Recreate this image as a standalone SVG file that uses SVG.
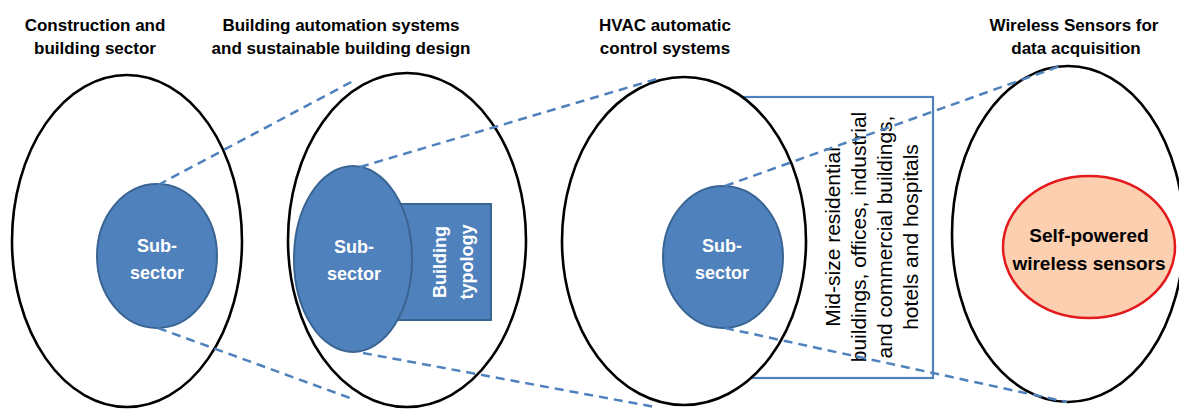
<svg xmlns="http://www.w3.org/2000/svg" width="1179" height="409" viewBox="0 0 1179 409">
  <style>
    .title { font-family: "Liberation Sans", Arial, sans-serif; font-size: 17px; font-weight: bold; fill: #000; text-anchor: middle; }
    .outer { fill: #fff; stroke: #000; stroke-width: 2.6; }
    .sub { fill: #4f81bd; stroke: #3a6593; stroke-width: 2; }
    .subtxt { font-family: "Liberation Sans", Arial, sans-serif; font-size: 18px; font-weight: bold; fill: #fff; text-anchor: middle; }
    .boxtxt { font-family: "Liberation Sans", Arial, sans-serif; font-size: 21px; fill: #000; text-anchor: middle; }
    .sensortxt { font-family: "Liberation Sans", Arial, sans-serif; font-size: 19px; font-weight: bold; fill: #000; text-anchor: middle; }
    .link { fill: none; stroke: #4f81bd; stroke-width: 2.5; stroke-dasharray: 9 6; }
  </style>

  <!-- column headings -->
  <g id="titles">
    <text class="title" x="95" y="31">Construction and</text>
    <text class="title" x="95" y="54">building sector</text>
    <text class="title" x="341" y="31">Building automation systems</text>
    <text class="title" x="341" y="54">and sustainable building design</text>
    <text class="title" x="665" y="31">HVAC automatic</text>
    <text class="title" x="665" y="54">control systems</text>
    <text class="title" x="1074" y="31">Wireless Sensors for</text>
    <text class="title" x="1076" y="54">data acquisition</text>
  </g>

  <!-- level 1: construction sector -->
  <g id="sector">
    <ellipse class="outer" cx="127" cy="241" rx="115" ry="166"/>
  </g>
  <g id="sector-sub">
    <ellipse class="sub" cx="157" cy="256" rx="60" ry="72"/>
    <text class="subtxt" x="157" y="252">Sub-</text>
    <text class="subtxt" x="157" y="279">sector</text>
  </g>

  <!-- level 2: building automation -->
  <g id="automation">
    <ellipse class="outer" cx="407" cy="240" rx="119" ry="167"/>
  </g>
  <g id="typology">
    <rect x="380" y="204" width="111" height="116" fill="#4f81bd" stroke="#3a6593" stroke-width="2"/>
    <text class="subtxt" transform="translate(446,262) rotate(-90)">Building</text>
    <text class="subtxt" transform="translate(473,262) rotate(-90)">typology</text>
  </g>
  <g id="automation-sub">
    <ellipse class="sub" cx="353" cy="259" rx="59" ry="93"/>
    <text class="subtxt" x="354" y="253">Sub-</text>
    <text class="subtxt" x="354" y="280">sector</text>
  </g>

  <!-- level 3: HVAC control -->
  <g id="building-types">
    <rect x="740" y="97" width="193" height="281" fill="#fff" stroke="#4f81bd" stroke-width="2.2"/>
  </g>
  <g id="hvac">
    <ellipse class="outer" cx="684" cy="241" rx="122" ry="164"/>
  </g>
  <g id="building-types-text">
    <text class="boxtxt" transform="translate(840,237) rotate(-90)">Mid-size residential</text>
    <text class="boxtxt" transform="translate(866,237) rotate(-90)">buildings, offices, industrial</text>
    <text class="boxtxt" transform="translate(892,237) rotate(-90)">and commercial buildings,</text>
    <text class="boxtxt" transform="translate(918,237) rotate(-90)">hotels and hospitals</text>
  </g>
  <g id="hvac-sub">
    <ellipse class="sub" cx="723" cy="257" rx="60" ry="71"/>
    <text class="subtxt" x="722" y="252">Sub-</text>
    <text class="subtxt" x="722" y="279">sector</text>
  </g>

  <!-- level 4: wireless sensors -->
  <g id="wireless">
    <ellipse class="outer" cx="1068" cy="234" rx="116" ry="168"/>
  </g>
  <g id="self-powered">
    <ellipse cx="1089" cy="247" rx="86" ry="71" fill="#fbcfb0" stroke="#e3191c" stroke-width="2.5"/>
    <text class="sensortxt" x="1089" y="242">Self-powered</text>
    <text class="sensortxt" x="1089" y="270">wireless sensors</text>
  </g>

  <!-- zoom-in projection lines -->
  <g id="connectors">
    <line class="link" x1="158" y1="185" x2="355" y2="80"/>
    <line class="link" x1="158" y1="328" x2="350" y2="398"/>
    <line class="link" x1="360" y1="167" x2="660" y2="78"/>
    <line class="link" x1="363" y1="353" x2="655" y2="407"/>
    <line class="link" x1="725" y1="186" x2="1063" y2="65"/>
    <line class="link" x1="725" y1="328" x2="1067" y2="402"/>
  </g>
</svg>
